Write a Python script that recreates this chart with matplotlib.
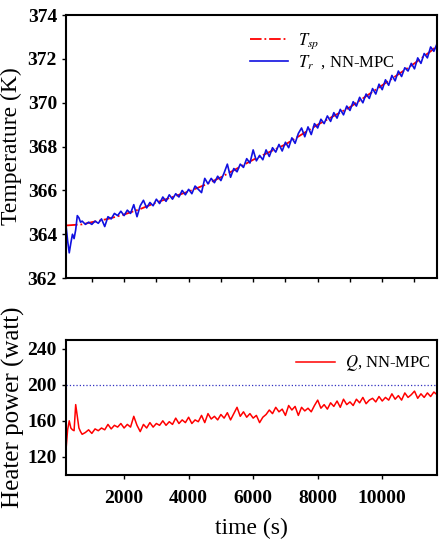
import numpy as np
import matplotlib.pyplot as plt

plt.rcParams['font.family'] = 'Liberation Serif'
plt.rcParams['mathtext.fontset'] = 'stix'

# setpoint trajectory
t_sp = [200, 700, 1000, 1500, 2000, 2500, 3000, 3500, 4000, 4500, 5000, 5500,
        6000, 6500, 7000, 7500, 8000, 8500, 9000, 9500, 10000, 10500, 11000,
        11500, 11700]
T_sp = [364.40, 364.45, 364.55, 364.70, 364.90, 365.15, 365.45, 365.70, 365.95,
        366.25, 366.60, 367.00, 367.40, 367.75, 368.10, 368.55, 369.00, 369.40,
        369.80, 370.30, 370.80, 371.30, 371.80, 372.35, 372.60]

# sample times for measured signals
t_early = [200, 250, 300, 350, 400, 450, 500, 550, 600, 650, 700]
t_main = list(range(800, 11800, 100))
t = t_early + t_main

T_r = [364.40, 363.70, 363.15, 363.60, 364.00, 363.80, 364.20, 364.85, 364.75, 364.55, 364.60,
       364.45, 364.55, 364.45, 364.60, 364.50, 364.70, 364.35, 364.80, 364.70, 364.95,
       364.85, 365.05, 364.85, 365.10, 364.95, 365.35, 364.80, 365.30, 365.55, 365.20,
       365.45, 365.30, 365.60, 365.40, 365.70, 365.50, 365.80, 365.60, 365.85, 365.70,
       366.00, 365.80, 366.05, 365.85, 366.20, 366.05, 365.90, 366.55, 366.30, 366.55,
       366.35, 366.65, 366.45, 366.80, 367.20, 366.60, 367.00, 366.85, 367.20, 367.05,
       367.45, 367.25, 367.85, 367.35, 367.60, 367.40, 367.85, 367.55, 367.95, 367.75,
       368.10, 367.80, 368.20, 367.95, 368.40, 368.15, 368.60, 368.85, 368.45, 368.90,
       368.55, 369.05, 368.85, 369.25, 369.05, 369.40, 369.15, 369.55, 369.30, 369.70,
       369.45, 369.85, 369.65, 370.05, 369.85, 370.25, 370.00, 370.40, 370.20, 370.65,
       370.40, 370.85, 370.60, 371.05, 370.80, 371.25, 371.00, 371.45, 371.20, 371.60,
       371.45, 371.80, 371.55, 372.05, 371.80, 372.25, 372.05, 372.55, 372.35, 372.70]

Q = [128, 150, 160, 152, 150, 149, 178, 165, 152, 148, 145,
     147, 150, 146, 151, 149, 152, 150, 156, 151, 155,
     153, 157, 152, 156, 153, 165, 155, 148, 156, 152,
     158, 153, 157, 155, 160, 155, 159, 156, 163, 157,
     161, 158, 164, 157, 161, 159, 166, 158, 168, 162,
     165, 161, 167, 163, 169, 161, 168, 175, 165, 170,
     164, 168, 163, 166, 158, 164, 167, 172, 168, 175,
     170, 173, 166, 177, 172, 176, 166, 175, 171, 174,
     170, 177, 183, 174, 178, 173, 180, 176, 182, 175,
     184, 178, 181, 177, 184, 180, 186, 179, 183, 185,
     181, 187, 182, 186, 183, 190, 184, 188, 183, 191,
     186, 189, 193, 185, 190, 186, 191, 187, 192, 189]

Q_max = 200

fig = plt.figure(figsize=(4.46, 5.42), dpi=100)
ax1 = fig.add_axes([0.148, 0.487, 0.832, 0.485])
ax2 = fig.add_axes([0.148, 0.124, 0.832, 0.249])

ax1.plot(t_sp, T_sp, color='red', linestyle='-.', linewidth=1.3, label=r'$T_{sp}$')
ax1.plot(t, T_r, color='#1010e0', linewidth=1.2, label=r'$T_r$  , NN-MPC')
ax1.set_xlim(200, 11700)
ax1.set_ylim(362, 374)
ax1.set_yticks(range(362, 375, 2))
ax1.set_xticks(range(1000, 12000, 1000))
ax1.set_xticklabels([])
ax1.set_ylabel('Temperature (K)', fontsize=17, labelpad=4)
ax1.legend(loc='upper left', bbox_to_anchor=(0.455, 0.995), frameon=False,
           fontsize=12, handlelength=2.3, labelspacing=0.15, handletextpad=0.6)

ax2.plot(t, Q, color='red', linewidth=1.1, label='$Q$, NN-MPC')
ax2.axhline(Q_max, color='#3030c0', linestyle=':', linewidth=0.9)
ax2.set_xlim(200, 11700)
ax2.set_ylim(100, 250)
ax2.set_yticks([120, 160, 200, 240])
ax2.set_xticks([2000, 4000, 6000, 8000, 10000])
ax2.set_ylabel('Heater power (watt)', fontsize=18, labelpad=2)
ax2.set_xlabel('time (s)', fontsize=17, labelpad=8)
ax2.legend(loc='upper left', bbox_to_anchor=(0.58, 1.01), frameon=False,
           fontsize=12, handlelength=2.3, handletextpad=0.6)

for ax in (ax1, ax2):
    for s in ax.spines.values():
        s.set_linewidth(1.5)
    ax.tick_params(direction='out', length=3, width=1, labelsize=14)
    for lab in ax.get_xticklabels() + ax.get_yticklabels():
        lab.set_fontweight('bold')
ax2.tick_params(axis='x', pad=8)

fig.savefig('out.png', dpi=100)
